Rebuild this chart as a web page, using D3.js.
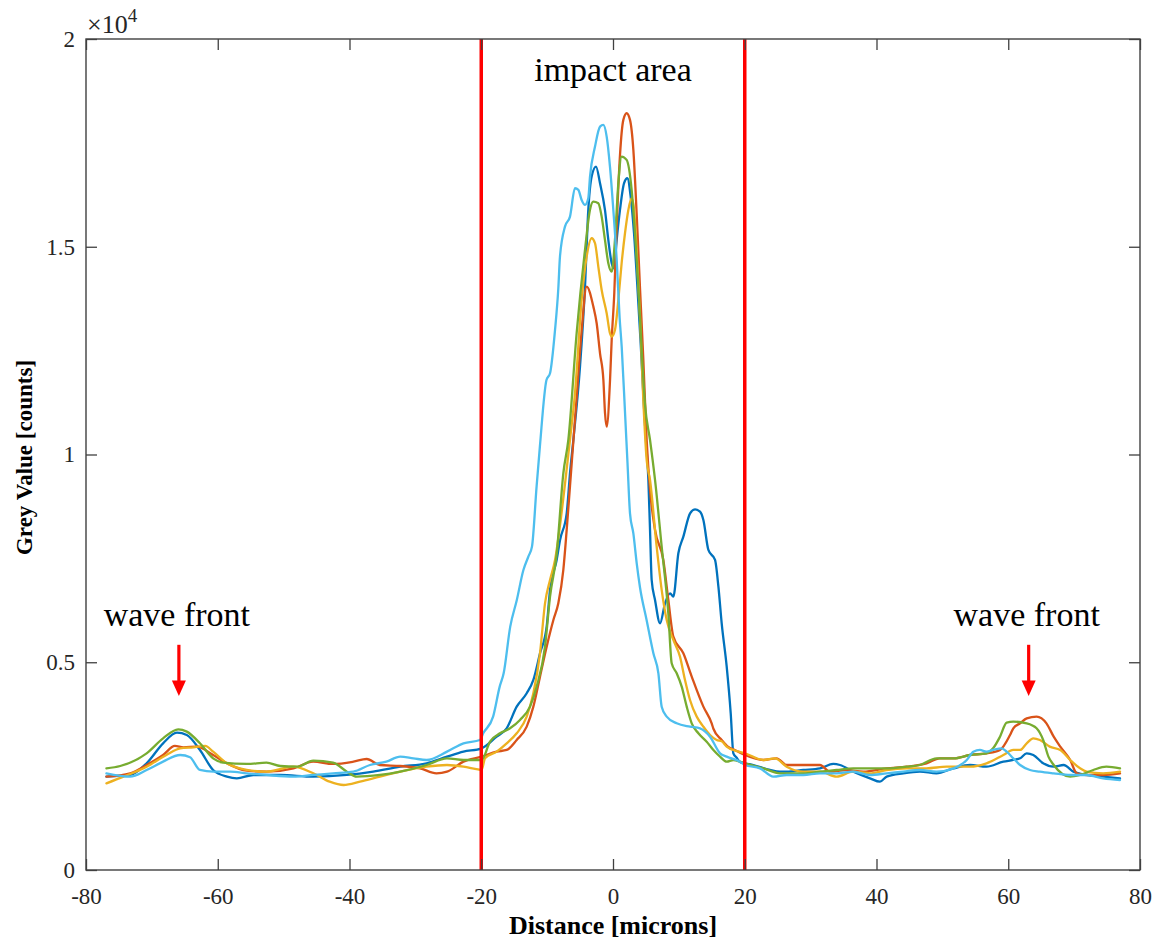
<!DOCTYPE html>
<html><head><meta charset="utf-8">
<script src="https://cdn.jsdelivr.net/npm/d3@7/dist/d3.min.js"></script>
<style>body{margin:0;background:#fff} svg{display:block} text{font-family:'Liberation Serif','Times New Roman',serif}</style>
</head><body>
<svg id="c" width="1156" height="940"></svg>
<script>
// ---- data (x: microns, y: grey value counts) ----
const xTicks = [-80,-60,-40,-20,0,20,40,60,80];
const yTicks = [0,5000,10000,15000,20000];
const yTickLabels = ["0","0.5","1","1.5","2"];
const impactBounds = [-20, 20];
const waveFrontX = [-65.9, 63.1];

const seriesBlue = [[-76.9,2247],[-73.3,2287],[-70.8,2568],[-68.3,3049],[-66.2,3306],[-64.7,3249],[-62.7,2889],[-60.7,2407],[-58.6,2247],[-57.1,2207],[-54.6,2287],[-50.5,2287],[-45.5,2247],[-40.4,2287],[-36.4,2367],[-32.3,2487],[-28.3,2568],[-25.2,2728],[-22.7,2848],[-19.94,2929],[-17.66,3210],[-16.14,3410],[-14.62,3932],[-13.1,4253],[-12.09,4574],[-11.08,5216],[-10.07,5857],[-9.56,6740],[-8.55,7462],[-8.04,7943],[-7.03,8585],[-6.5,9600],[-6.02,10350],[-5.01,12116],[-4.25,14041],[-3.75,15886],[-3.24,16689],[-2.58,16929],[-1.97,16528],[-1.22,15886],[-0.71,15164],[-0.2,14603],[0.15,14482],[0.56,15164],[1.06,15886],[1.67,16528],[2.18,16649],[2.68,16207],[3.19,15325],[3.7,14041],[4.2,12677],[4.7,11153],[5.0,10350],[5.37,9387],[5.62,8184],[5.87,6980],[6.38,6499],[7.14,5937],[7.9,6419],[8.66,6659],[9.16,6579],[9.92,7622],[10.68,8023],[11.7,8585],[12.45,8681],[13.21,8625],[13.72,8424],[14.48,7702],[15.49,7462],[16.0,6820],[16.5,5937],[17.26,4894],[17.87,3771],[18.27,2808],[18.78,2700],[19.28,2600],[20.04,2568],[21.3,2527],[23.83,2407],[25.35,2367],[26.36,2367],[28.89,2407],[31.42,2447],[33.45,2552],[34.46,2527],[36.48,2367],[39.01,2207],[40.53,2126],[41.54,2247],[44.07,2327],[46.6,2367],[49.1,2327],[51.7,2447],[54.2,2527],[56.7,2487],[59.26,2608],[60.77,2648],[61.8,2688],[62.8,2808],[63.8,2768],[65.3,2568],[66.9,2487],[68.4,2527],[69.9,2367],[71.9,2287],[74.4,2247],[76.97,2207]];

const seriesOrange = [[-76.9,2247],[-73.3,2327],[-70.8,2527],[-68.3,2768],[-66.5,2985],[-65.2,2953],[-63.2,2969],[-60.7,2768],[-58.6,2568],[-55.6,2391],[-52.6,2367],[-48.5,2447],[-45.5,2608],[-42.5,2552],[-39.4,2608],[-37.4,2672],[-35.4,2527],[-32.3,2503],[-29.3,2447],[-26.8,2327],[-25.2,2367],[-22.7,2608],[-19.94,2728],[-17.66,2849],[-16.14,2889],[-14.62,3130],[-13.1,3451],[-12.09,3932],[-11.08,4654],[-10.07,5376],[-9.05,6018],[-8.3,6419],[-7.54,7221],[-7.03,8184],[-6.27,9788],[-5.51,11393],[-4.75,12997],[-4.0,14041],[-2.98,13559],[-2.48,13158],[-1.97,12436],[-1.46,11794],[-1.21,10992],[-0.96,10671],[-0.45,11794],[-0.2,12757],[0.2,13900],[0.56,15500],[1.06,17200],[1.57,18053],[2.07,18213],[2.58,18053],[3.09,17331],[3.59,15800],[4.1,14000],[4.6,12300],[5.11,10350],[5.62,9147],[6.38,8184],[7.64,7462],[8.4,6499],[9.16,5617],[10.68,5215],[11.95,4654],[13.72,3932],[14.98,3530],[15.24,3400],[16.5,3129],[17.5,2960],[18.5,2889],[20.04,2768],[22.82,2648],[24.84,2688],[26.36,2527],[28.89,2527],[31.42,2527],[32.94,2367],[35.47,2407],[38.0,2367],[41.54,2447],[44.58,2487],[47.6,2568],[49.6,2688],[51.7,2688],[54.2,2768],[56.7,2808],[58.75,2889],[60.27,3249],[60.77,3410],[61.8,3530],[62.8,3651],[64.3,3691],[65.8,3530],[66.9,3209],[67.9,2969],[69.4,2648],[70.4,2327],[71.9,2287],[74.4,2287],[76.97,2327]];

const seriesYellow = [[-76.9,2086],[-74.3,2247],[-70.8,2487],[-67.8,2768],[-65.7,2929],[-63.7,2953],[-61.9,2985],[-60.7,2848],[-58.6,2568],[-55.6,2407],[-52.6,2367],[-48.5,2487],[-45.5,2327],[-43.0,2126],[-40.9,2046],[-38.4,2126],[-35.4,2247],[-32.3,2367],[-28.3,2487],[-25.2,2527],[-22.7,2488],[-20.5,2420],[-19.94,2407],[-19.43,2688],[-17.66,2849],[-16.14,3049],[-14.62,3290],[-13.1,3691],[-12.09,4253],[-11.08,5216],[-10.32,6419],[-9.56,6981],[-8.8,7462],[-8.04,8300],[-7.28,9300],[-6.53,10350],[-5.77,11474],[-4.76,13720],[-4.0,14763],[-3.24,15205],[-2.73,15084],[-2.23,14523],[-1.72,13960],[-0.96,13400],[-0.46,12918],[-0.2,12838],[0.3,12998],[0.81,13720],[1.31,14603],[1.82,15325],[2.33,15886],[2.83,16167],[3.2,15900],[3.59,14924],[4.1,13319],[4.6,11313],[5.11,9869],[5.62,9387],[6.63,7782],[7.39,6740],[8.15,6017],[9.16,5536],[10.17,5135],[10.93,4573],[11.69,4092],[12.71,3691],[13.72,3450],[14.73,3249],[15.74,3129],[16.5,3100],[17.26,2969],[18.78,2860],[20.04,2808],[22.82,2648],[24.59,2688],[26.36,2487],[28.89,2367],[31.42,2367],[33.95,2247],[36.48,2367],[39.01,2327],[41.54,2407],[44.58,2447],[47.6,2447],[50.65,2487],[54.2,2487],[56.7,2568],[59.26,2768],[60.77,2889],[61.8,2889],[62.8,3049],[63.8,3169],[64.8,3129],[66.3,2969],[67.9,2889],[69.4,2648],[70.9,2447],[71.9,2367],[74.4,2327],[76.97,2367]];

const seriesGreen = [[-76.9,2447],[-74.8,2503],[-70.8,2808],[-68.3,3169],[-66.0,3386],[-64.7,3330],[-62.7,3049],[-60.7,2688],[-59.2,2584],[-55.6,2552],[-52.6,2584],[-50.5,2503],[-48.0,2487],[-45.5,2632],[-42.5,2584],[-40.4,2367],[-38.9,2247],[-35.4,2287],[-32.3,2367],[-28.3,2527],[-25.2,2688],[-22.7,2648],[-19.94,2648],[-18.67,3089],[-17.15,3290],[-15.63,3410],[-14.12,3611],[-12.6,3932],[-11.59,4413],[-10.32,5376],[-9.56,6580],[-8.55,7600],[-7.54,9548],[-6.78,10350],[-5.52,12918],[-4.25,14924],[-3.5,15886],[-2.99,16087],[-2.23,16047],[-1.72,15726],[-1.22,15164],[-0.71,14603],[-0.2,14402],[0.3,15164],[0.81,16528],[1.31,17170],[2.07,17090],[2.83,16368],[3.34,15325],[3.85,14041],[4.35,12516],[4.86,11200],[5.62,10350],[6.38,9387],[7.39,7782],[8.4,6178],[8.91,4974],[9.67,4734],[10.43,4413],[11.19,3931],[11.95,3530],[12.96,3290],[14.22,3089],[15.24,2888],[16.25,2728],[17.26,2608],[18.27,2648],[19.28,2608],[20.04,2568],[22.82,2447],[25.35,2327],[28.89,2327],[31.42,2367],[33.95,2407],[36.48,2447],[41.54,2447],[44.58,2487],[46.6,2527],[49.1,2688],[51.7,2688],[54.2,2768],[56.7,2808],[57.7,2929],[58.75,3209],[59.76,3546],[60.77,3570],[62.8,3530],[64.3,3410],[65.3,3129],[66.1,2728],[66.9,2527],[69.4,2247],[70.9,2287],[72.9,2407],[74.9,2487],[76.97,2447]];

const seriesLightBlue = [[-76.9,2327],[-73.3,2247],[-70.8,2407],[-68.3,2608],[-65.7,2768],[-64.2,2712],[-62.7,2407],[-60.7,2367],[-58.1,2367],[-55.6,2327],[-52.6,2287],[-48.5,2247],[-45.5,2287],[-42.5,2327],[-39.4,2367],[-36.9,2527],[-34.4,2608],[-32.3,2728],[-30.3,2688],[-28.3,2648],[-25.2,2848],[-22.7,3049],[-20.2,3129],[-19.7,3290],[-18.2,3691],[-17.2,4413],[-16.6,4734],[-15.6,5857],[-14.6,6499],[-13.6,7221],[-12.85,7542],[-12.3,7783],[-11.6,9227],[-11.1,10190],[-10.1,11794],[-9.56,11955],[-8.8,12997],[-8.3,14000],[-8.05,14763],[-7.29,15485],[-6.53,15726],[-5.77,16408],[-5.26,16368],[-4.76,16127],[-4.25,16007],[-3.75,16167],[-3.49,16689],[-2.73,17411],[-1.97,17892],[-1.47,17932],[-0.96,17651],[-0.46,16929],[0.05,15887],[0.56,14683],[1.0,13300],[1.32,12597],[1.83,10992],[2.2,9800],[2.58,8585],[3.09,8100],[3.6,7381],[4.1,6800],[5.1,6017],[6.13,5215],[6.89,4734],[7.39,3931],[8.15,3691],[9.67,3530],[11.69,3450],[13.21,3410],[14.73,3209],[16.25,2808],[17.26,2728],[19.28,2608],[20.04,2527],[22.31,2447],[24.34,2247],[26.36,2287],[28.89,2287],[31.42,2327],[33.95,2327],[36.48,2367],[39.01,2287],[41.54,2327],[44.07,2367],[46.6,2407],[49.1,2367],[51.7,2447],[53.7,2648],[54.7,2848],[55.7,2889],[56.7,2848],[57.7,2889],[59.0,2929],[59.76,2848],[60.77,2688],[61.8,2527],[63.3,2407],[64.8,2367],[66.9,2327],[69.4,2287],[71.9,2287],[74.4,2207],[76.97,2166]];

const seriesList = [seriesBlue, seriesOrange, seriesYellow, seriesGreen, seriesLightBlue];
const seriesColors = ["#0072BD","#D95319","#EDB120","#77AC30","#4DBEEE"];

// ---- layout ----
const L = 86, R = 1140, T = 39, B = 870;
const svg = d3.select("#c");
const x = d3.scaleLinear().domain([-80,80]).range([L,R]);
const y = d3.scaleLinear().domain([0,20000]).range([B,T]);
const font = "'Liberation Serif','Times New Roman',serif";
const axisColor = "#404040";
const tickLen = 11;

// series
const line = d3.line().x(d=>x(d[0])).y(d=>y(d[1])).curve(d3.curveMonotoneX);
const g = svg.append("g");
seriesList.forEach((s,i)=>{
  g.append("path").datum(s).attr("d",line)
   .attr("fill","none").attr("stroke",seriesColors[i])
   .attr("stroke-width",2.3).attr("stroke-linejoin","round").attr("stroke-linecap","round");
});

// impact boundaries
impactBounds.forEach(v=>{
  svg.append("line").attr("x1",x(v)).attr("x2",x(v)).attr("y1",y(20000)).attr("y2",y(0))
    .attr("stroke","#FF0000").attr("stroke-width",3.5);
});

// axes (box with ticks inward on all sides)
const axB = d3.axisBottom(x).tickValues(xTicks).tickSize(-tickLen).tickPadding(18).tickFormat(d=>String(d));
const axT = d3.axisTop(x).tickValues(xTicks).tickSize(-tickLen).tickFormat("");
const axL = d3.axisLeft(y).tickValues(yTicks).tickSize(-tickLen).tickPadding(11).tickFormat((d,i)=>yTickLabels[i]);
const axR = d3.axisRight(y).tickValues(yTicks).tickSize(-tickLen).tickFormat("");
function style(sel){
  sel.attr("font-family", null).attr("font-size", null);
  sel.selectAll(".tick line").attr("stroke",axisColor).attr("stroke-width",1.3);
  sel.selectAll(".tick text").attr("fill","#262626").attr("font-family",font).attr("font-size",23);
}
svg.append("g").attr("transform",`translate(0,${B})`).call(axB).call(style);
svg.append("g").attr("transform",`translate(0,${T})`).call(axT).call(style);
svg.append("g").attr("transform",`translate(${L},0)`).call(axL).call(style);
svg.append("g").attr("transform",`translate(${R},0)`).call(axR).call(style);
svg.selectAll(".domain").remove();
svg.append("rect").attr("x",L).attr("y",T).attr("width",R-L).attr("height",B-T)
  .attr("fill","none").attr("stroke",axisColor).attr("stroke-width",1.4);

// exponent label
const ex = svg.append("text").attr("x",L+1).attr("y",33).attr("font-family",font).attr("font-size",26).attr("fill","#262626");
ex.append("tspan").text("\u00d710");
ex.append("tspan").attr("dy",-11).attr("font-size",19).text("4");

// axis titles
svg.append("text").attr("x",x(0)).attr("y",934).attr("text-anchor","middle")
  .attr("font-family",font).attr("font-size",26).attr("font-weight","bold").attr("fill","#000")
  .text("Distance [microns]");
svg.append("text").attr("transform",`translate(32,${(T+B)/2 + 3}) rotate(-90)`).attr("text-anchor","middle")
  .attr("font-family",font).attr("font-size",23).attr("font-weight","bold").attr("fill","#000")
  .text("Grey Value [counts]");

// annotations
svg.append("text").attr("x",x(0)).attr("y",y(19000)).attr("text-anchor","middle")
  .attr("font-family",font).attr("font-size",34).attr("fill","#000").text("impact area");
waveFrontX.forEach(v=>{
  svg.append("text").attr("x",x(v)-2).attr("y",y(5870)).attr("text-anchor","middle")
    .attr("font-family",font).attr("font-size",34).attr("fill","#000").text("wave front");
  svg.append("line").attr("x1",x(v)).attr("x2",x(v)).attr("y1",y(5420)).attr("y2",y(4500))
    .attr("stroke","#FF0000").attr("stroke-width",3.2);
  svg.append("path").attr("d",`M${x(v)-7},${y(4560)} L${x(v)+7},${y(4560)} L${x(v)},${y(4190)} Z`)
    .attr("fill","#FF0000");
});
</script></body></html>
